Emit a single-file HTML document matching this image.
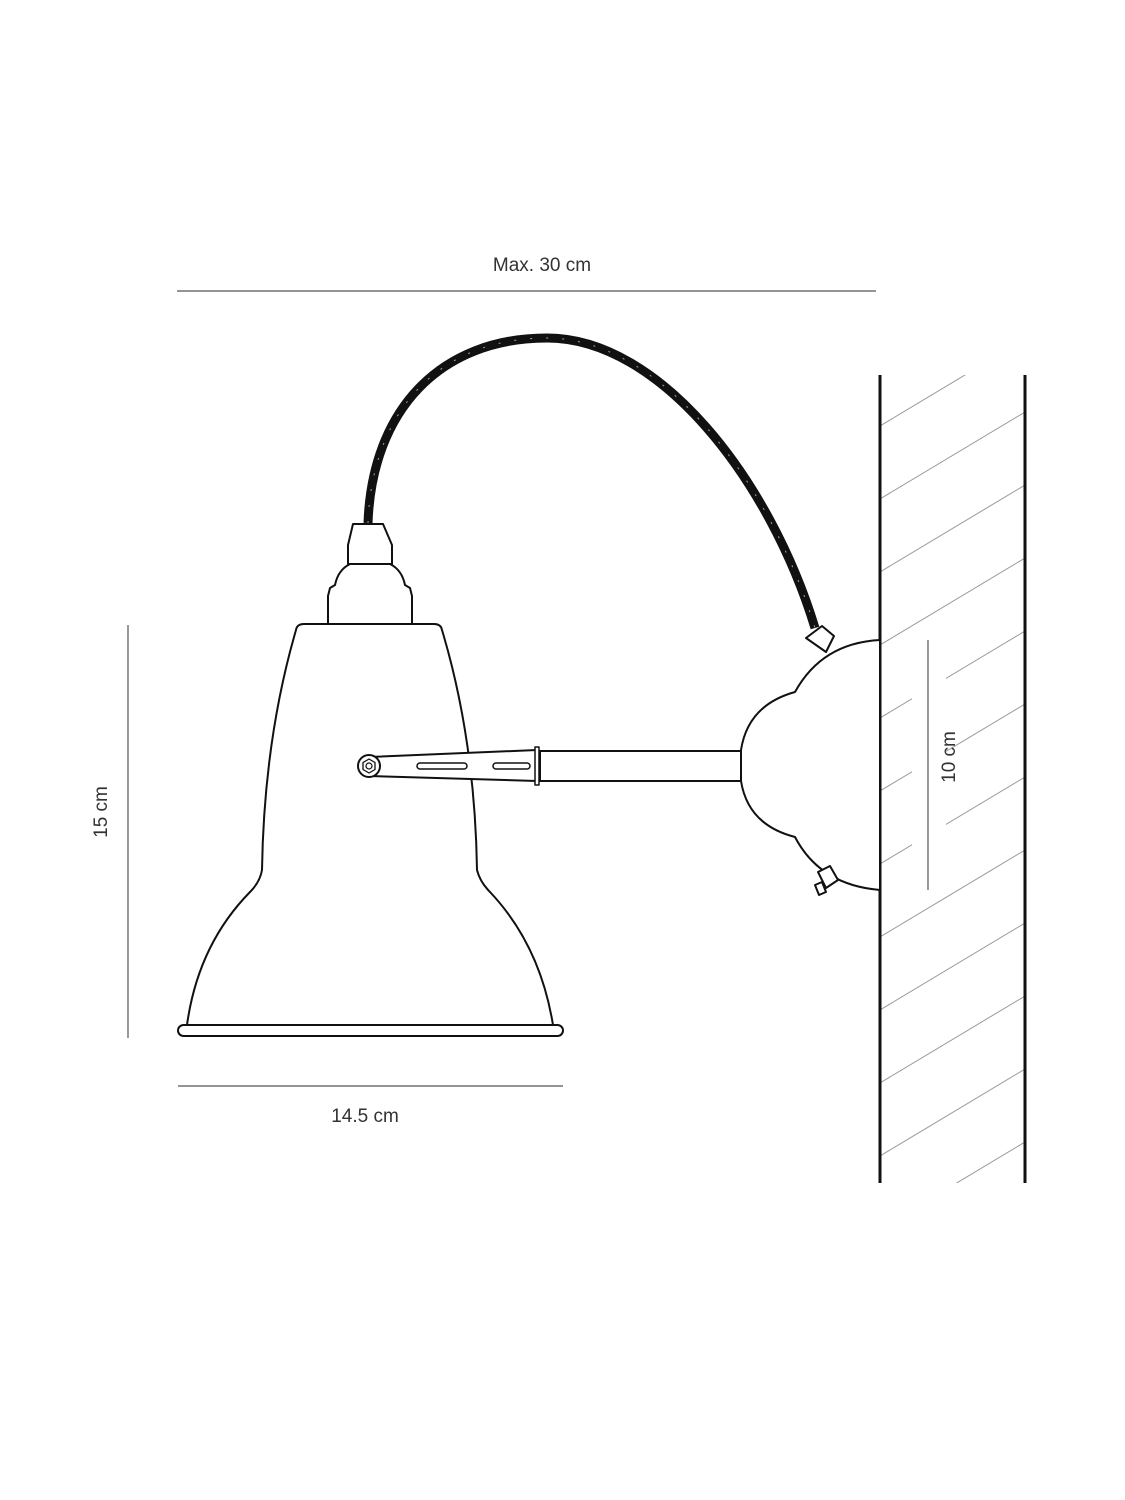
<!DOCTYPE html>
<html><head><meta charset="utf-8"><style>
html,body{margin:0;padding:0;background:#fff;}
svg{display:block;}
text{font-family:"Liberation Sans",Arial,sans-serif;font-size:19px;fill:#333;}
</style></head><body>
<svg width="1125" height="1500" viewBox="0 0 1125 1500" xmlns="http://www.w3.org/2000/svg">
<defs><clipPath id="wc"><rect x="880" y="375" width="145" height="808"/></clipPath></defs>
<!-- dimensions -->
<text x="542" y="271" text-anchor="middle">Max. 30 cm</text>
<line x1="177" y1="291" x2="876" y2="291" stroke="#555" stroke-width="1.2"/>
<line x1="128" y1="625" x2="128" y2="1038" stroke="#555" stroke-width="1.2"/>
<text transform="translate(107,812) rotate(-90)" text-anchor="middle">15 cm</text>
<line x1="178" y1="1086" x2="563" y2="1086" stroke="#555" stroke-width="1.2"/>
<text x="365" y="1122" text-anchor="middle">14.5 cm</text>
<!-- hatch -->
<g clip-path="url(#wc)" stroke="#999" stroke-width="1">
<line x1="880" y1="426" x2="1025" y2="339"/>
<line x1="880" y1="499" x2="1025" y2="412"/>
<line x1="880" y1="572" x2="1025" y2="485"/>
<line x1="880" y1="645" x2="1025" y2="558"/>
<line x1="880" y1="718" x2="1025" y2="631"/>
<line x1="880" y1="791" x2="1025" y2="704"/>
<line x1="880" y1="864" x2="1025" y2="777"/>
<line x1="880" y1="937" x2="1025" y2="850"/>
<line x1="880" y1="1010" x2="1025" y2="923"/>
<line x1="880" y1="1083" x2="1025" y2="996"/>
<line x1="880" y1="1156" x2="1025" y2="1069"/>
<line x1="880" y1="1229" x2="1025" y2="1142"/>
<line x1="880" y1="1302" x2="1025" y2="1215"/>
</g>
<rect x="912" y="652" width="34" height="240" fill="#fff"/>
<line x1="928" y1="640" x2="928" y2="890" stroke="#555" stroke-width="1.2"/>
<text transform="translate(955,757) rotate(-90)" text-anchor="middle">10 cm</text>
<line x1="880" y1="375" x2="880" y2="1183" stroke="#111" stroke-width="3"/>
<line x1="1025" y1="375" x2="1025" y2="1183" stroke="#111" stroke-width="3"/>
<!-- cable -->
<path d="M368,523 C 372,410 440,338 547,338 C 660,338 770,480 815,628" fill="none" stroke="#111" stroke-width="9"/>
<path d="M368,523 C 372,410 440,338 547,338 C 660,338 770,480 815,628" fill="none" stroke="#fff" stroke-width="1" stroke-dasharray="2 14" opacity="0.6"/>
<!-- mount -->
<g stroke="#111" stroke-width="2" fill="#fff" stroke-linejoin="round">
<path d="M806,638 L822,626 L834,636 L826,652 Z"/>
<path d="M880,640 Q822,643 795,692 Q748,705 741,750 L741,781 Q748,825 795,837 Q820,885 880,890 Z"/>
<path d="M818,872 L830,866 L838,880 L826,888 Z"/>
<path d="M815,885 L822,882 L826,892 L819,895 Z"/>
<rect x="540" y="751" width="201" height="30"/>
</g>
<!-- socket -->
<g stroke="#111" stroke-width="2" fill="#fff" stroke-linejoin="round">
<path d="M353,524 L383,524 L392,545 L392,564 L348,564 L348,545 Z"/>
<path d="M350,564 L390,564 Q402,570 405,585 L410,588 L412,596 L412,624 L328,624 L328,596 L330,588 L335,585 Q338,570 350,564 Z"/>
<!-- shade -->
<path d="M304,624 L434,624 Q441,624 442,630 Q475,740 477,870 Q480,882 490,892 Q540,945 553,1025 L187,1025 Q198,945 250,892 Q260,882 262,870 Q264,740 296,630 Q297,624 304,624 Z"/>
<rect x="178" y="1025" width="385" height="11" rx="5.5"/>
<!-- arm -->
<path d="M369,757 L537,750 L537,781 L369,776 Z"/>
<rect x="535" y="747" width="4" height="38" stroke-width="1.5"/>
<rect x="417" y="763" width="50" height="6" rx="3" stroke-width="1.5"/>
<rect x="493" y="763" width="37" height="6" rx="3" stroke-width="1.5"/>
<circle cx="369" cy="766" r="11"/>
<polygon points="369,759 375,762.5 375,769.5 369,773 363,769.5 363,762.5" stroke-width="1.3"/>
<circle cx="369" cy="766" r="3" stroke-width="1.2"/>
</g>
</svg>
</body></html>
